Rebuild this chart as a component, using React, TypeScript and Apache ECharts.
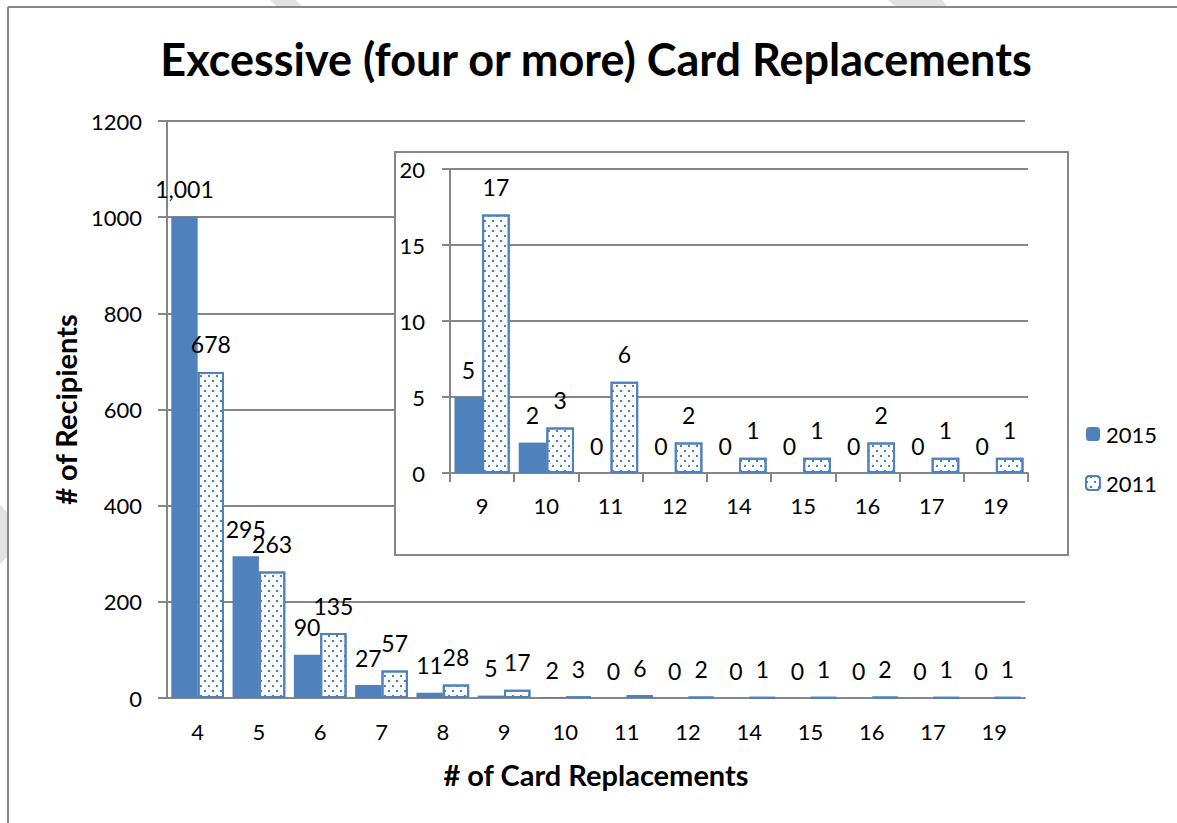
import React, { useEffect, useRef } from "react";
import * as echarts from "echarts";

const categories = ["4", "5", "6", "7", "8", "9", "10", "11", "12", "14", "15", "16", "17", "19"];
const values2015 = [1001, 295, 90, 27, 11, 5, 2, 0, 0, 0, 0, 0, 0, 0];
const values2011 = [678, 263, 135, 57, 28, 17, 3, 6, 2, 1, 1, 2, 1, 1];
const insetStart = 5; // inset shows categories from "9" onward
const insetCategories = categories.slice(insetStart);
const inset2015 = values2015.slice(insetStart);
const inset2011 = values2011.slice(insetStart);
const mainTicks = { min: 0, max: 1200, interval: 200 };
const insetTicks = { min: 0, max: 20, interval: 5 };

const BLUE = "#4F81BD";
const GREY = "#868686";
const FONT = "Lato";

const dotDecal = {
  symbol: "rect",
  symbolSize: 1,
  color: BLUE,
  dashArrayX: [[2, 6], [0, 4, 2, 2]],
  dashArrayY: [2, 3],
  rotation: 0,
};

export default function App() {
  const ref = useRef<HTMLDivElement>(null);
  useEffect(() => {
    document.body.style.margin = "0";
    const chart = echarts.init(ref.current!, null, { renderer: "svg" });
    const fmt = (p: any) => Number(p.value).toLocaleString("en-US");
    const labelCommon = {
      show: true,
      position: "top",
      distance: 16,
      fontSize: 23,
      color: "#000",
      fontFamily: FONT,
      formatter: fmt,
    };
    const axisLabelStyle = { fontSize: 22, color: "#000", fontFamily: FONT, formatter: (v: any) => String(v) };
    const lineStyle = { color: GREY, width: 2 };
    const nameStyle = { fontSize: 29, fontWeight: "bold", color: "#000", fontFamily: FONT };
    chart.setOption({
      animation: false,
      backgroundColor: "#fff",
      textStyle: { fontFamily: FONT },
      title: {
        text: "Excessive (four or more) Card Replacements",
        left: 591,
        textAlign: "center",
        top: 31,
        textStyle: { fontSize: 45, fontWeight: "bold", color: "#000", fontFamily: FONT },
      },
      legend: {
        orient: "vertical",
        left: 1080,
        top: 417,
        itemWidth: 14,
        itemHeight: 14,
        itemGap: 25,
        data: ["2015", "2011"],
        textStyle: { fontSize: 22, lineHeight: 24, color: "#000", fontFamily: FONT, padding: [0, 0, 0, 1] },
      },
      grid: [
        { left: 167, right: 152, top: 121, bottom: 125 },
        { left: 450, right: 149, top: 169, bottom: 350 },
      ],
      xAxis: [
        {
          type: "category",
          gridIndex: 0,
          data: categories,
          axisLine: { lineStyle },
          axisTick: { show: false },
          axisLabel: { ...axisLabelStyle, margin: 22 },
          name: "# of Card Replacements",
          nameLocation: "middle",
          nameGap: 62,
          nameTextStyle: nameStyle,
        },
        {
          type: "category",
          gridIndex: 1,
          data: insetCategories,
          z: 4,
          axisLine: { lineStyle },
          axisTick: { show: true, length: 9, lineStyle },
          axisLabel: { ...axisLabelStyle, margin: 21 },
        },
      ],
      yAxis: [
        {
          type: "value",
          gridIndex: 0,
          ...mainTicks,
          axisLine: { show: true, lineStyle },
          axisTick: { show: true, length: 9, lineStyle },
          splitLine: { show: true, lineStyle },
          axisLabel: { ...axisLabelStyle, margin: 25 },
          name: "# of Recipients",
          nameLocation: "middle",
          nameGap: 86,
          nameTextStyle: nameStyle,
        },
        {
          type: "value",
          gridIndex: 1,
          ...insetTicks,
          z: 4,
          axisLine: { show: true, lineStyle },
          axisTick: { show: true, length: 8, lineStyle },
          splitLine: { show: true, lineStyle },
          axisLabel: { ...axisLabelStyle, margin: 25 },
        },
      ],
      graphic: [
        { type: "polygon", z: 0, shape: { points: [[270, 0], [296, 0], [303, 7], [277, 7]] }, style: { fill: "#e2e2e2" } },
        { type: "polygon", z: 0, shape: { points: [[888, 0], [942, 0], [948, 7], [896, 7]] }, style: { fill: "#e2e2e2" } },
        { type: "polygon", z: 0, shape: { points: [[0, 505], [8, 513], [8, 556], [0, 564]] }, style: { fill: "#e2e2e2" } },
        { type: "line", z: 1, shape: { x1: 8, y1: 7, x2: 1177, y2: 7 }, style: { stroke: "#888", lineWidth: 2 } },
        { type: "line", z: 1, shape: { x1: 8, y1: 7, x2: 8, y2: 823 }, style: { stroke: "#888", lineWidth: 2 } },
        {
          type: "rect",
          z: 3,
          shape: { x: 395, y: 152, width: 673, height: 403 },
          style: { fill: "#fff", stroke: GREY, lineWidth: 2 },
        },
      ],
      series: [
        {
          name: "2015",
          type: "bar",
          xAxisIndex: 0,
          yAxisIndex: 0,
          data: values2015,
          barGap: "0%",
          barCategoryGap: "14%",
          itemStyle: { color: BLUE },
          label: labelCommon,
        },
        {
          name: "2011",
          type: "bar",
          xAxisIndex: 0,
          yAxisIndex: 0,
          data: values2011,
          barGap: "0%",
          barCategoryGap: "14%",
          itemStyle: { color: "#fff", borderColor: BLUE, borderWidth: 2, decal: dotDecal },
          label: labelCommon,
        },
        {
          name: "2015",
          type: "bar",
          xAxisIndex: 1,
          yAxisIndex: 1,
          z: 5,
          data: inset2015,
          barGap: "0%",
          barCategoryGap: "14%",
          itemStyle: { color: BLUE },
          label: labelCommon,
        },
        {
          name: "2011",
          type: "bar",
          xAxisIndex: 1,
          yAxisIndex: 1,
          z: 5,
          data: inset2011,
          barGap: "0%",
          barCategoryGap: "14%",
          itemStyle: { color: "#fff", borderColor: BLUE, borderWidth: 2, decal: dotDecal },
          label: labelCommon,
        },
      ],
    });
    return () => chart.dispose();
  }, []);
  return <div ref={ref} style={{ width: 1177, height: 823 }} />;
}
